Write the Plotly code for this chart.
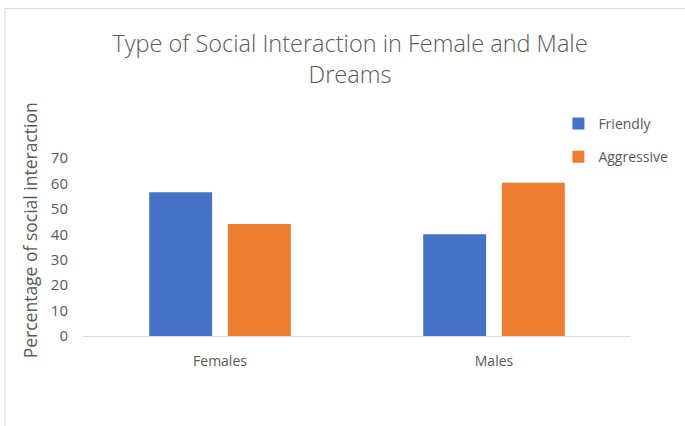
import plotly.graph_objects as go

categories = ["Females", "Males"]
friendly = [56.5, 40.0]
aggressive = [44.0, 60.3]
series_names = ["Friendly", "Aggressive"]
y_ticks = [0, 10, 20, 30, 40, 50, 60, 70]

W, H = 685, 426
L, R, T, B = 83, 51, 158, 90
pw, ph = W - L - R, H - T - B

FONT = "Open Sans"
GREY = "#595959"

fig = go.Figure()
fig.add_trace(go.Bar(x=categories, y=friendly, name=series_names[0],
                     marker=dict(color="#4472C4", line=dict(width=0)), legendgroup="a"))
fig.add_trace(go.Bar(x=categories, y=aggressive, name=series_names[1],
                     marker=dict(color="#ED7D31", line=dict(width=0)), legendgroup="b"))

fig.update_layout(
    width=W, height=H,
    margin=dict(l=L, r=R, t=T, b=B),
    paper_bgcolor="white", plot_bgcolor="white",
    barmode="group", bargap=0.426, bargroupgap=0.2,
    font=dict(family=FONT, color=GREY, size=14),
    title=dict(text="Type of Social Interaction in Female and Male<br>Dreams",
               x=350 / W, xref="container", xanchor="center",
               y=1 - 52 / H, yref="container", yanchor="top",
               font=dict(family=FONT, size=23.5, color=GREY, weight=300)),
    legend=dict(x=(561 - L) / pw, y=1 + (158 - 108) / ph, xanchor="left", yanchor="top",
                font=dict(size=14, color=GREY), tracegroupgap=12,
                itemwidth=30, bgcolor="rgba(0,0,0,0)"),
    xaxis=dict(showgrid=False, showline=True, linecolor="#d9d9d9", linewidth=1,
               ticks="outside", ticklen=12, tickcolor="rgba(0,0,0,0)",
               tickfont=dict(size=14, color=GREY), fixedrange=True),
    yaxis=dict(range=[0, 70], tickvals=y_ticks, showgrid=False, showline=False,
               zeroline=False, ticks="outside", ticklen=11, tickcolor="rgba(0,0,0,0)",
               tickfont=dict(size=15, color=GREY), fixedrange=True),
    annotations=[dict(text="Percentage of social interaction", textangle=-90,
                      xref="paper", yref="paper",
                      x=(30 - L) / pw, y=(336 - 230) / ph,
                      xanchor="center", yanchor="middle", showarrow=False,
                      font=dict(size=17.5, color=GREY))],
    shapes=[dict(type="rect", xref="paper", yref="paper",
                 x0=(4.5 - L) / pw, x1=(W + 5 - L) / pw,
                 y0=(336 - (H + 5)) / ph, y1=(336 - 8.5) / ph,
                 line=dict(color="#d9d9d9", width=1), fillcolor="rgba(0,0,0,0)",
                 layer="below")],
)

fig.write_html("out.html", config={"displayModeBar": False},
               post_script="document.body.style.margin='0';")
